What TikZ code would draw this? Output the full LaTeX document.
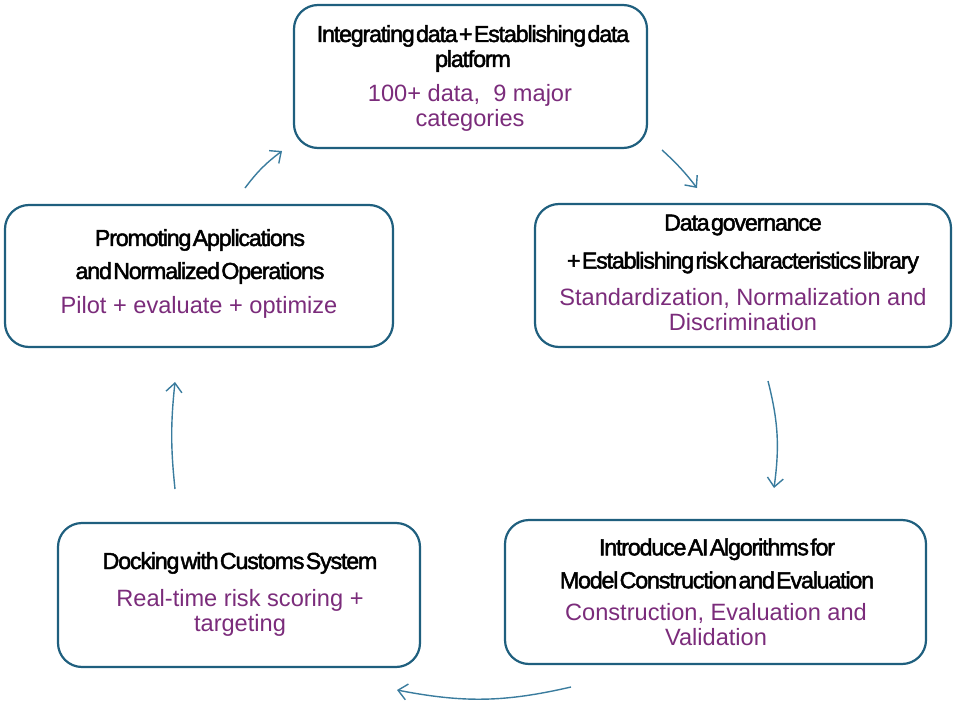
\documentclass[tikz,border=0pt]{standalone}
\usepackage{fontspec}
\setmainfont{Liberation Sans}
\newfontfamily\titlefont{Liberation Sans}[LetterSpace=-5,WordSpace=0.25,FakeBold=2]
\usetikzlibrary{arrows.meta}
\definecolor{boxc}{HTML}{1F5F7E}
\definecolor{arrc}{HTML}{3A7C9E}
\definecolor{purp}{HTML}{7B2C7B}
\tikzset{
  box/.style={draw=boxc, line width=2.2pt, rounded corners=24pt, fill=white},
  ttl/.style={font=\titlefont\fontsize{23.2}{25}\selectfont, text=black, align=center, inner sep=0pt},
  sub/.style={font=\fontsize{23.6}{25}\selectfont, text=purp, align=center, inner sep=0pt},
  conn/.style={draw=arrc, line width=1.4pt, -{Straight Barb[length=9pt,width=16pt,line width=1.4pt]}}
}
\begin{document}
\begin{tikzpicture}[x=1pt,y=-1pt]
\useasboundingbox (0,0) rectangle (954,704);
% boxes
\node[box, minimum width=353pt, minimum height=143pt] (b1) at (470.5,76.5) {};
\node[box, minimum width=416pt, minimum height=143pt] (b2) at (743,275.5) {};
\node[box, minimum width=421pt, minimum height=144pt] (b3) at (715.5,592) {};
\node[box, minimum width=362pt, minimum height=144pt] (b4) at (239,595) {};
\node[box, minimum width=388pt, minimum height=142pt] (b5) at (199,276) {};
% texts
\node[ttl, font=\titlefont\fontsize{23.2}{25}\selectfont] (t1) at (473,48.5) {Integrating data + Establishing data\\platform};
\node[sub] (s1) at (470,107.5) {100+ data,~~9 major\\categories};
\node[ttl, font=\titlefont\fontsize{23.2}{38}\selectfont] (t2) at (743,244) {Data governance\\+ Establishing risk characteristics library};
\node[sub] (s2) at (743,309.5) {Standardization, Normalization and\\Discrimination};
\node[ttl, font=\titlefont\fontsize{23.2}{33}\selectfont] (t3) at (717,563.5) {Introduce AI Algorithms for\\Model Construction and Evaluation};
\node[sub] (s3) at (716,625) {Construction, Evaluation and\\Validation};
\node[ttl] (t4) at (240,563) {Docking with Customs System};
\node[sub] (s4) at (240,612.5) {Real-time risk scoring +\\targeting};
\node[ttl, font=\titlefont\fontsize{23.2}{33}\selectfont] (t5) at (200,256.5) {Promoting Applications\\and Normalized Operations};
\node[sub] (s5) at (199,307) {Pilot + evaluate + optimize};
% connector ends
\coordinate (a1s) at (662,150); \coordinate (a1e) at (697,188);
\coordinate (a2s) at (768,381); \coordinate (a2e) at (774,488);
\coordinate (a3s) at (571,687); \coordinate (a3e) at (397,690);
\coordinate (a4s) at (175,489); \coordinate (a4e) at (175,382);
\coordinate (a5s) at (245,188); \coordinate (a5e) at (282,151);
\draw[conn] (a1s) to[bend left=5] (a1e);
\draw[conn] (a2s) to[bend left=11] (a2e);
\draw[conn] (a3s) to[bend left=12] (a3e);
\draw[conn] (a4s) to[bend left=6] (a4e);
\draw[conn] (a5s) to[bend left=8] (a5e);
\end{tikzpicture}
\end{document}
